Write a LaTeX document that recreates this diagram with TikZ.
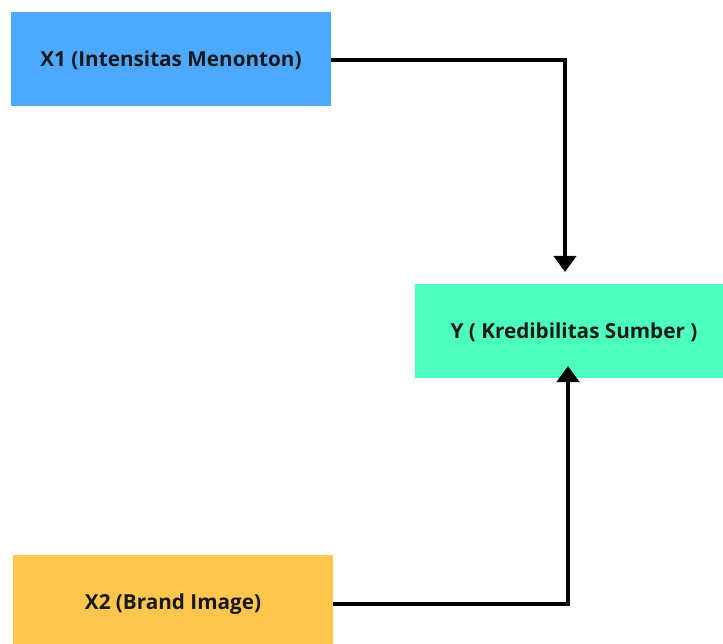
\documentclass[tikz,border=0pt]{standalone}
\usepackage{fontspec}
\setmainfont{Open Sans}
\usetikzlibrary{arrows.meta}
\definecolor{cblue}{HTML}{4DA8FF}
\definecolor{cgreen}{HTML}{4DFFBE}
\definecolor{cyellow}{HTML}{FFC64D}
\begin{document}
\begin{tikzpicture}[x=1pt,y=-1pt,
  box/.style={draw=none, inner sep=0pt, font=\bfseries\fontsize{20.7}{24}\selectfont, text=black!90},
  conn/.style={line width=4pt, -{Triangle[width=22pt,length=16pt]}, line join=miter}]
\useasboundingbox (0,0) rectangle (723,644);
\fill[white] (0,0) rectangle (723,644);
\fill[cblue] (11,12) rectangle (331,106);
\node[box] (x1) at (171,60) {X1 (Intensitas Menonton)};
\coordinate (x1r) at (331,60);
\fill[cgreen] (415,284) rectangle (723,378);
\node[box] (y) at (574,332) {Y ( Kredibilitas Sumber )};
\coordinate (yt) at (565,272);
\coordinate (yb) at (568,366);
\fill[cyellow] (13,555) rectangle (333,644);
\node[box] (x2) at (173,604) {X2 (Brand Image)};
\coordinate (x2r) at (333,604);
\draw[conn] (x1r) -| (yt);
\draw[conn] (x2r) -| (yb);
\end{tikzpicture}
\end{document}
